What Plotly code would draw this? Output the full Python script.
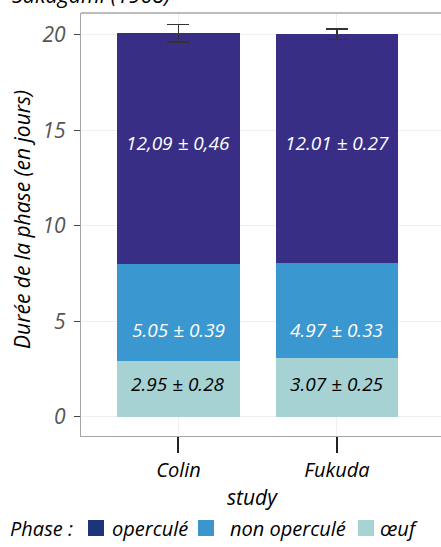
import plotly.graph_objects as go

# ---- data ----
studies = ["Colin", "Fukuda"]
oeuf = [2.95, 3.07]
non_opercule = [5.05, 4.97]
opercule = [12.09, 12.01]
err_total = [0.46, 0.27]
labels_oeuf = ["2.95 ± 0.28", "3.07 ± 0.25"]
labels_non = ["5.05 ± 0.39", "4.97 ± 0.33"]
labels_oper = ["12,09 ± 0,46", "12.01 ± 0.27"]
yticks = [0, 5, 10, 15, 20]
legend_names = ["operculé", "non operculé", "œuf"]

# ---- styles / layout constants ----
# figure is wider than the window so the panel runs off the right edge (as in the reference)
W, H = 450, 547
L, R, T, B = 81, 450, 13, 436
FONT = "Open Sans"
bar_colors = ["#a6d2d3", "#3a97cf", "#392e85"]
legend_colors = ["#1c3577", "#3a96cd", "#a7d3d3"]
label_y = [1.72, 4.55, 14.35]   # vertical placement of value labels (data units)


def px_x(px):
    return (px - L) / (R - L)


def px_y(py):
    return (B - py) / (B - T)


fig = go.Figure()
fig.add_trace(go.Bar(x=studies, y=oeuf, marker_color=bar_colors[0],
                     marker_line_width=0, width=0.77, showlegend=False))
fig.add_trace(go.Bar(x=studies, y=non_opercule, marker_color=bar_colors[1],
                     marker_line_width=0, width=0.77, showlegend=False))
fig.add_trace(go.Bar(x=studies, y=opercule, marker_color=bar_colors[2],
                     marker_line_width=0, width=0.77, showlegend=False,
                     error_y=dict(type="data", array=err_total, color="#333333",
                                  thickness=1.3, width=11)))

ann = []
for i, s in enumerate(studies):
    for lab, yy, col in ((labels_oeuf[i], label_y[0], "black"),
                         (labels_non[i], label_y[1], "white"),
                         (labels_oper[i], label_y[2], "white")):
        ann.append(dict(x=s, y=yy, xref="x", yref="y", text=lab, showarrow=False,
                        font=dict(family=FONT, size=19, color=col, style="italic")))

# axis titles
ann.append(dict(x=px_x(252), y=px_y(497), xref="paper", yref="paper", text="study",
                showarrow=False, xanchor="center", yanchor="middle",
                font=dict(family=FONT, size=21, color="black", style="italic")))
ann.append(dict(x=px_x(22), y=px_y(220), xref="paper", yref="paper",
                text="Durée de la phase (en jours)", textangle=-90,
                showarrow=False, xanchor="center", yanchor="middle",
                font=dict(family=FONT, size=21, color="black", style="italic")))
# cut-off title at top
ann.append(dict(x=px_x(10), y=px_y(-6), xref="paper", yref="paper",
                text="Sakagami (1968)", showarrow=False, xanchor="left", yanchor="middle",
                font=dict(family=FONT, size=21.5, color="black", style="italic")))

# custom legend
ly = 528
ann.append(dict(x=px_x(8), y=px_y(ly), xref="paper", yref="paper", text="Phase :",
                showarrow=False, xanchor="left", yanchor="middle",
                font=dict(family=FONT, size=20, color="black", style="italic")))
sw_x = [88, 198, 358]
txt_x = [110, 228, 378]
shapes = []
for name, c, sx, tx in zip(legend_names, legend_colors, sw_x, txt_x):
    shapes.append(dict(type="rect", xref="paper", yref="paper",
                       x0=px_x(sx), x1=px_x(sx + 16), y0=px_y(ly + 8), y1=px_y(ly - 8),
                       fillcolor=c, line_width=0, layer="above"))
    ann.append(dict(x=px_x(tx), y=px_y(ly), xref="paper", yref="paper", text=name,
                    showarrow=False, xanchor="left", yanchor="middle",
                    font=dict(family=FONT, size=20, color="black", style="italic")))

# top border of the panel
shapes.append(dict(type="line", xref="paper", yref="paper", x0=0, x1=1, y0=1, y1=1,
                   line=dict(color="#a6a6a6", width=1.3)))

fig.update_layout(
    width=W, height=H,
    margin=dict(l=L, r=W - R, t=T, b=H - B),
    barmode="stack",
    plot_bgcolor="white", paper_bgcolor="white",
    annotations=ann, shapes=shapes,
    showlegend=False,
    font=dict(family=FONT),
)
fig.update_xaxes(
    range=[-0.615, 1.713], showgrid=True, gridcolor="#efefef", gridwidth=1,
    showline=True, linecolor="#a6a6a6", linewidth=1.3,
    ticks="outside", ticklen=16, tickwidth=1.5, tickcolor="#222222",
    tickfont=dict(family=FONT, size=20, color="black", style="italic"),
    zeroline=False,
)
fig.update_yaxes(
    range=[-1.0, 21.15], tickvals=yticks, showgrid=True, gridcolor="#efefef", gridwidth=1,
    showline=True, linecolor="#a6a6a6", linewidth=1.3,
    ticks="outside", ticklen=6, tickwidth=1.2, tickcolor="#444444",
    ticklabelstandoff=4,
    tickfont=dict(family=FONT, size=21, color="#555555", style="italic"),
    zeroline=False,
)

fig.write_html("out.html", config={"displayModeBar": False},
               post_script="document.body.style.margin='0';document.body.style.overflow='hidden';")
